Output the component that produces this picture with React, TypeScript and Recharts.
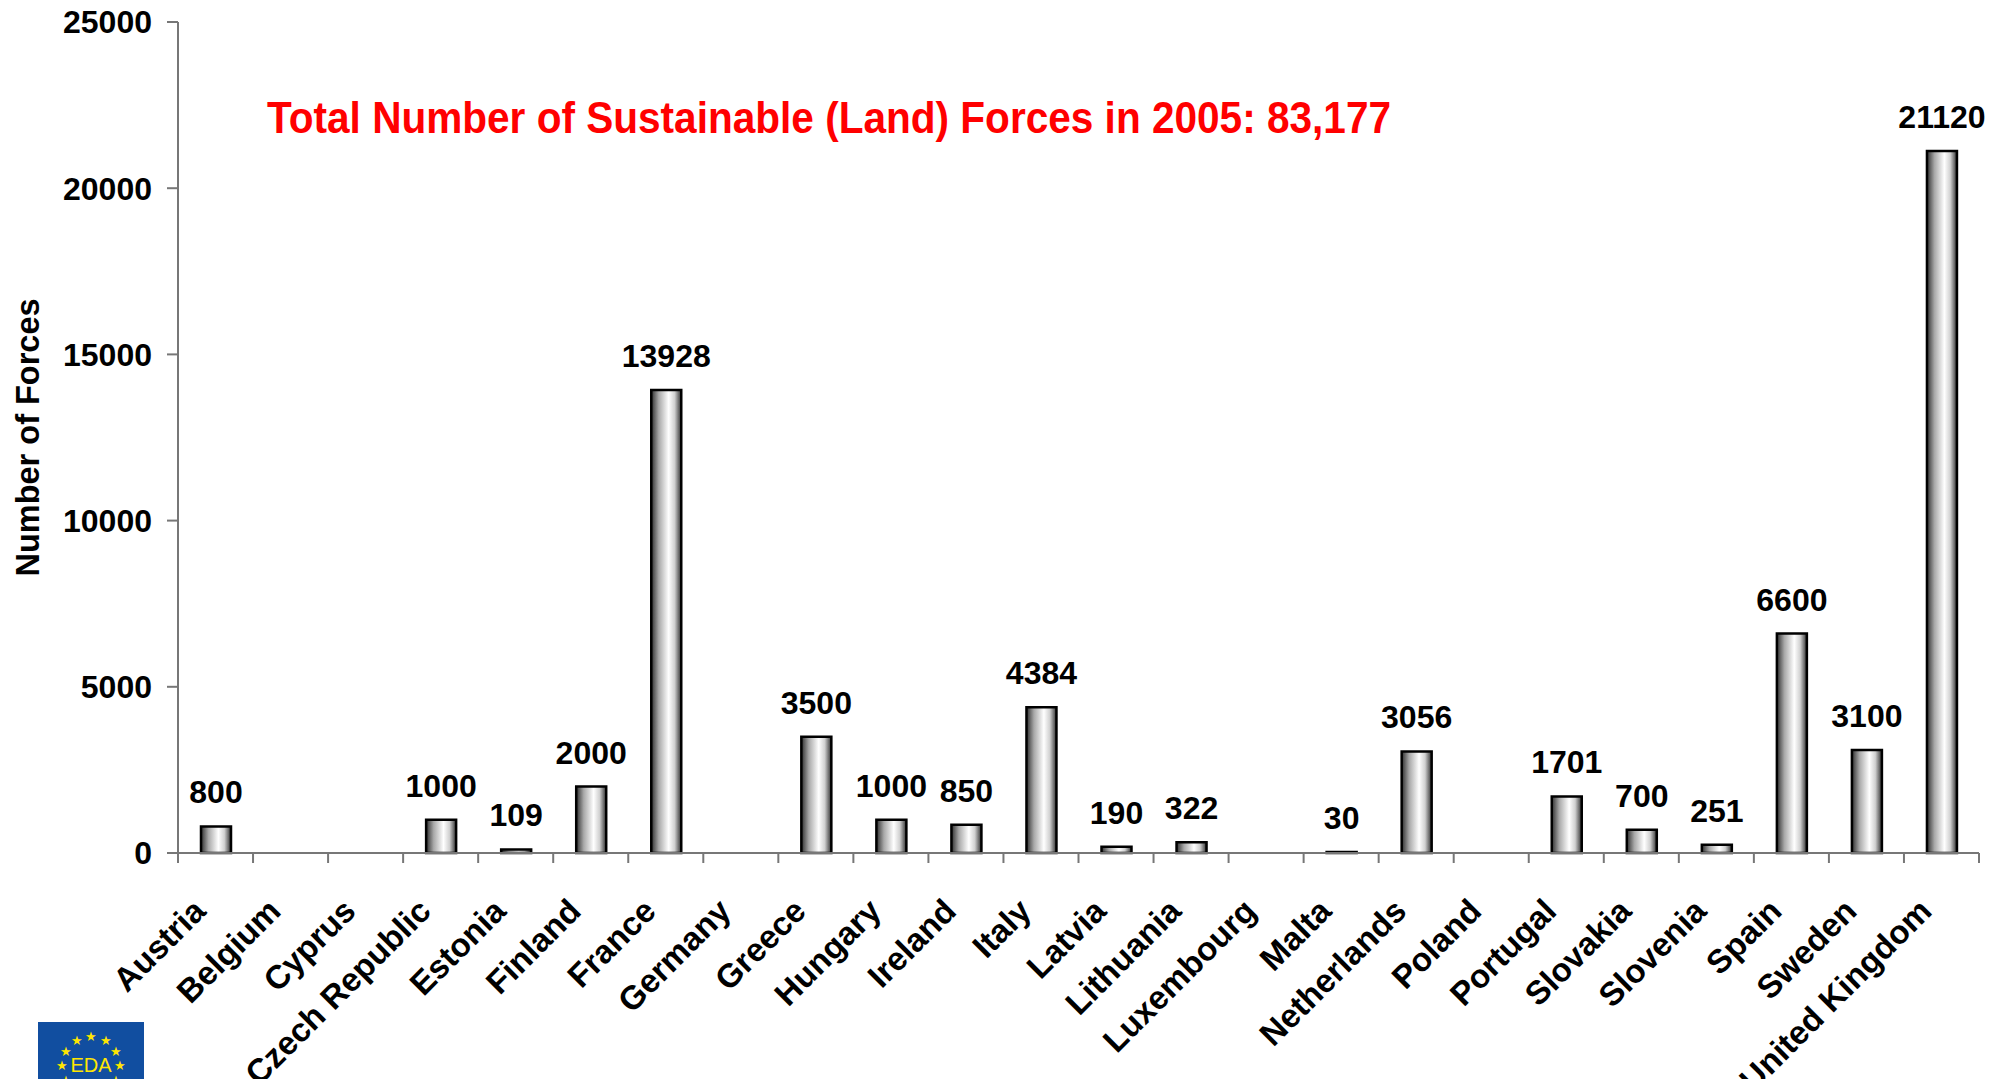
import { BarChart, Bar, XAxis, YAxis, LabelList, Label } from "recharts";

const countries = [
  "Austria", "Belgium", "Cyprus", "Czech Republic", "Estonia", "Finland",
  "France", "Germany", "Greece", "Hungary", "Ireland", "Italy", "Latvia",
  "Lithuania", "Luxembourg", "Malta", "Netherlands", "Poland", "Portugal",
  "Slovakia", "Slovenia", "Spain", "Sweden", "United Kingdom",
];

// null = no figure given for that country
const forces: (number | null)[] = [
  800, null, 0, 1000, 109, 2000, 13928, null, 3500, 1000, 850, 4384, 190,
  322, null, 30, 3056, null, 1701, 700, 251, 6600, 3100, 21120,
];

const yTicks = [0, 5000, 10000, 15000, 20000, 25000];

const title = "Total Number of Sustainable (Land) Forces in 2005: 83,177";

const data = countries.map((country, i) => ({ country, forces: forces[i] }));

const W = 2007;
const H = 1079;
const left = 178;
const right = 28;
const font = "'Liberation Sans', Arial, sans-serif";
const halfBand = (W - left - right) / countries.length / 2;

const CountryTick = (props: any) => {
  const { x, y, payload, index } = props;
  const tx = x - 8;
  const ty = y + 60;
  return (
    <g>
      <line x1={x - halfBand} x2={x - halfBand} y1={y} y2={y + 10} stroke="#777" strokeWidth={2} />
      {index === countries.length - 1 && (
        <line x1={x + halfBand} x2={x + halfBand} y1={y} y2={y + 10} stroke="#777" strokeWidth={2} />
      )}
      <text
        x={tx}
        y={ty}
        transform={`rotate(-45, ${tx}, ${ty})`}
        textAnchor="end"
        fontFamily={font}
        fontWeight="bold"
        fontSize={33}
        fill="#000"
      >
        {payload.value}
      </text>
    </g>
  );
};

const ValueLabel = (props: any) => {
  const { x, y, width, value } = props;
  if (value === null || value === undefined) return null;
  return (
    <text
      x={x + width / 2}
      y={y - 23}
      textAnchor="middle"
      fontFamily={font}
      fontWeight="bold"
      fontSize={32}
      fill="#000"
    >
      {value}
    </text>
  );
};

const Logo = () => {
  const stars = Array.from({ length: 12 }, (_, i) => {
    const a = (i / 12) * Math.PI * 2;
    return { x: 91 + 29 * Math.sin(a), y: 1065 - 29 * Math.cos(a) };
  });
  return (
    <g>
      <rect x={38} y={1022} width={106} height={60} fill="#114ea0" />
      {stars.map((s, i) => (
        <text key={i} x={s.x} y={s.y + 5} textAnchor="middle" fontSize={13} fill="#ffe600">
          ★
        </text>
      ))}
      <text x={91} y={1072} textAnchor="middle" fontFamily={font} fontSize={20} fill="#ffe600">
        EDA
      </text>
    </g>
  );
};

export default function App() {
  return (
    <div style={{ position: "absolute", left: 0, top: 0, width: W, height: H, background: "#fff" }}>
      <BarChart
        width={W}
        height={H}
        data={data}
        margin={{ top: 22, right: right, left: 0, bottom: 0 }}
        barSize={30}
      >
        <defs>
          <linearGradient id="barGrad" x1="0" y1="0" x2="1" y2="0">
            <stop offset="0%" stopColor="#2e2e2e" />
            <stop offset="25%" stopColor="#a8a8a8" />
            <stop offset="58%" stopColor="#ffffff" />
            <stop offset="78%" stopColor="#d0d0d0" />
            <stop offset="100%" stopColor="#2e2e2e" />
          </linearGradient>
        </defs>
        <XAxis
          dataKey="country"
          interval={0}
          height={226}
          tickLine={false}
          tickSize={0}
          tickMargin={0}
          axisLine={{ stroke: "#777", strokeWidth: 2 }}
          tick={<CountryTick />}
        />
        <YAxis
          width={left}
          domain={[0, 25000]}
          ticks={yTicks}
          interval={0}
          tickSize={11}
          tickMargin={15}
          axisLine={{ stroke: "#777", strokeWidth: 2 }}
          tickLine={{ stroke: "#777", strokeWidth: 2 }}
          tick={{ fontFamily: font, fontWeight: "bold", fontSize: 32, fill: "#000" }}
        >
          <Label
            content={(p: any) => {
              const vb = p.viewBox || { y: 22, height: 831 };
              const cy = vb.y + vb.height / 2;
              return (
                <text
                  x={39}
                  y={cy}
                  transform={`rotate(-90, 39, ${cy})`}
                  textAnchor="middle"
                  fontFamily={font}
                  fontWeight="bold"
                  fontSize={32.5}
                  fill="#000"
                >
                  Number of Forces
                </text>
              );
            }}
          />
        </YAxis>
        <Bar
          dataKey="forces"
          fill="url(#barGrad)"
          stroke="#000"
          strokeWidth={2.5}
          isAnimationActive={false}
        >
          <LabelList dataKey="forces" content={<ValueLabel />} />
        </Bar>
      </BarChart>
      <svg
        width={W}
        height={H}
        style={{ position: "absolute", left: 0, top: 0, pointerEvents: "none" }}
      >
        <text
          x={267}
          y={133}
          fontFamily={font}
          fontWeight="bold"
          fontSize={45}
          fill="#ff0000"
          textLength={1124}
          lengthAdjust="spacingAndGlyphs"
        >
          {title}
        </text>
        <Logo />
      </svg>
    </div>
  );
}
